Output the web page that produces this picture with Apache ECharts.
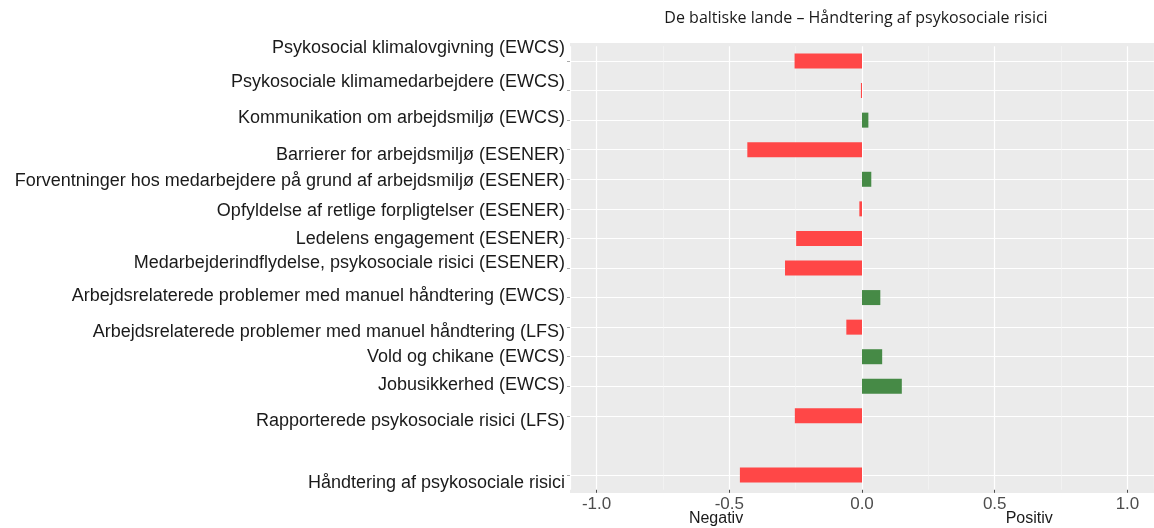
<!DOCTYPE html>
<html>
<head>
<meta charset="utf-8">
<script src="https://cdn.jsdelivr.net/npm/echarts@6/dist/echarts.min.js"></script>
<style>
  html, body { margin: 0; padding: 0; background: #fff; }
  #chart { width: 1154px; height: 528px; }
</style>
</head>
<body>
<div id="chart"></div>
<script>
// Kategorier (tom plads før den samlede indikator)
const categories = [
  "Psykosocial klimalovgivning (EWCS)",
  "Psykosociale klimamedarbejdere (EWCS)",
  "Kommunikation om arbejdsmiljø (EWCS)",
  "Barrierer for arbejdsmiljø (ESENER)",
  "Forventninger hos medarbejdere på grund af arbejdsmiljø (ESENER)",
  "Opfyldelse af retlige forpligtelser (ESENER)",
  "Ledelens engagement (ESENER)",
  "Medarbejderindflydelse, psykosociale risici (ESENER)",
  "Arbejdsrelaterede problemer med manuel håndtering (EWCS)",
  "Arbejdsrelaterede problemer med manuel håndtering (LFS)",
  "Vold og chikane (EWCS)",
  "Jobusikkerhed (EWCS)",
  "Rapporterede psykosociale risici (LFS)",
  "",
  "Håndtering af psykosociale risici"
];

const values = [
  -0.254, -0.004, 0.024, -0.432, 0.035, -0.01, -0.248, -0.29,
  0.069, -0.059, 0.076, 0.15, -0.253, null, -0.46
];

const sideLabels = ["Negativ", "Positiv"];
const sidePositions = [-0.55, 0.63];

// etiketterne i originalen sidder lidt skævt i forhold til søjlerne (px)
const labelShift = [-13, -9, -2, 5, 2, 2, 1, -5, -2, 5, 0, -1, 5, 0, 8];

const chart = echarts.init(document.getElementById("chart"));

const labelFont = { fontFamily: "Liberation Sans", fontSize: 18, color: "#1a1a1a" };
const rich = {};
labelShift.forEach((s, i) => {
  rich["s" + i] = Object.assign({}, labelFont, {
    padding: s > 0 ? [2 * s, 0, 0, 0] : [0, 0, -2 * s, 0]
  });
});

const hasLabel = (idx, val) => val !== "";

const options = {
  animation: false,
  title: {
    text: "De baltiske lande – Håndtering af psykosociale risici",
    left: 851,
    top: 5,
    textAlign: "center",
    textStyle: {
      fontFamily: "Open Sans",
      fontSize: 16,
      fontWeight: "normal",
      color: "#1a1a1a"
    }
  },
  grid: {
    left: 570,
    right: 0,
    top: 46.2,
    height: 443.6,
    containLabel: false
  },
  xAxis: {
    type: "value",
    min: -1.1,
    max: 1.1,
    axisLine: { show: false, onZero: false },
    axisTick: { show: true, length: 3, lineStyle: { color: "#4d4d4d" } },
    axisLabel: {
      showMinLabel: false,
      showMaxLabel: false,
      margin: 6,
      fontFamily: "Liberation Sans",
      fontSize: 17,
      color: "#4d4d4d",
      formatter: (v) => v.toFixed(1)
    },
    splitLine: { show: true, lineStyle: { color: "#ffffff", width: 1.2 } },
    minorTick: { show: false, splitNumber: 2 },
    minorSplitLine: { show: true, lineStyle: { color: "#f7f7f7", width: 0.6 } }
  },
  yAxis: {
    type: "category",
    inverse: true,
    data: categories,
    axisLine: { show: false, onZero: false },
    axisTick: {
      show: true,
      alignWithLabel: true,
      interval: hasLabel,
      length: 3,
      lineStyle: { color: "#aaa" }
    },
    axisLabel: Object.assign({}, labelFont, {
      margin: 5,
      interval: 0,
      formatter: (val, idx) => (val === "" ? "" : "{s" + idx + "|" + val + "}"),
      rich: rich
    }),
    splitLine: {
      show: true,
      alignWithLabel: true,
      interval: hasLabel,
      lineStyle: { color: "#ffffff", width: 1.2 }
    }
  },
  series: [
    {
      type: "bar",
      data: values,
      barWidth: 15,
      clip: false,
      itemStyle: {
        color: (p) => (p.value < 0 ? "#ff4747" : "#468a46")
      }
    }
  ]
};

chart.setOption(options);

// panel-baggrund + Negativ / Positiv under x-aksen
const panel = {
  id: "panel",
  type: "rect",
  z: -10,
  shape: { x: 570, y: 43, width: 584, height: 450 },
  style: { fill: "#ebebeb" }
};
chart.setOption({
  graphic: [panel].concat(sideLabels.map((txt, i) => ({
    id: "side" + i,
    type: "text",
    x: chart.convertToPixel({ xAxisIndex: 0 }, sidePositions[i]),
    y: 519,
    style: {
      text: txt,
      align: "center",
      verticalAlign: "middle",
      font: "16px 'Liberation Sans'",
      fill: "#1a1a1a"
    }
  })))
});
</script>
</body>
</html>
